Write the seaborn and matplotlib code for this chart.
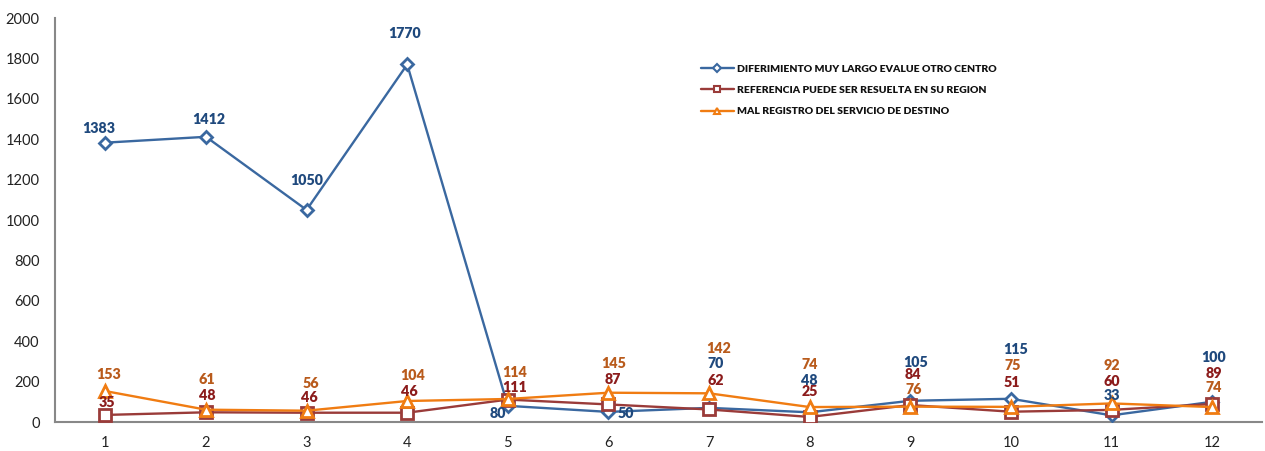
import matplotlib
matplotlib.use("Agg")
import matplotlib.pyplot as plt
import seaborn as sns
import pandas as pd
import numpy as np

months = list(range(1, 13))
series_names = [
    "DIFERIMIENTO MUY LARGO EVALUE OTRO CENTRO",
    "REFERENCIA PUEDE SER RESUELTA EN SU REGION",
    "MAL REGISTRO DEL SERVICIO DE DESTINO",
]
diferimiento = [1383, 1412, 1050, 1770, 80, 50, 70, 48, 105, 115, 33, 100]
referencia = [35, 48, 46, 46, 111, 87, 62, 25, 84, 51, 60, 89]
mal_registro = [153, 61, 56, 104, 114, 145, 142, 74, 76, 75, 92, 74]

line_colors = ["#3A68A0", "#9A3B39", "#F07C12"]
label_colors = ["#1F497D", "#8C1C1C", "#B95B1C"]
markers = ["D", "s", "^"]
msizes = [6, 8, 8]

# label offsets in pixels (dx, dy up)
offsets = [
    [(-7, 14), (3, 17), (0, 29), (-3, 31), (-10, -8), (17, -2), (7, 44), (0, 32), (5, 38), (5, 49), (0, 20), (1, 44)],
    [(2, 12), (1, 17), (3, 15), (2, 21), (7, 12), (4, 25), (7, 29), (0, 25), (3, 31), (1, 29), (0, 28), (2, 31)],
    [(3, 17), (1, 30), (4, 27), (5, 25), (7, 26), (5, 29), (10, 45), (0, 43), (3, 17), (2, 41), (0, 38), (2, 20)],
]

df = pd.DataFrame({
    "mes": months * 3,
    "valor": diferimiento + referencia + mal_registro,
    "serie": [series_names[0]] * 12 + [series_names[1]] * 12 + [series_names[2]] * 12,
})

sns.set_theme(style="white")
plt.rcParams["font.family"] = ["Lato", "DejaVu Sans"]

fig = plt.figure(figsize=(12.65, 4.51), dpi=100)
ax = fig.add_axes([0.0435, 0.0643, 0.9545, 0.8957])

all_vals = [diferimiento, referencia, mal_registro]
for i, name in enumerate(series_names):
    sub = df[df["serie"] == name]
    sns.lineplot(data=sub, x="mes", y="valor", ax=ax, color=line_colors[i],
                 linewidth=1.7, marker=markers[i], markersize=msizes[i],
                 markerfacecolor="white", markeredgecolor=line_colors[i],
                 markeredgewidth=2, label=name, zorder=3 + i)

for i, vals in enumerate(all_vals):
    for j, v in enumerate(vals):
        dx, dy = offsets[i][j]
        ax.annotate(str(v), (months[j], v), xytext=(dx, dy), textcoords="offset pixels",
                    ha="center", va="center", fontsize=10.3, fontweight="heavy",
                    color=label_colors[i], zorder=10)

ax.set_xlim(0.5, 12.5)
ax.set_ylim(0, 2000)
ax.set_yticks(np.arange(0, 2001, 200))
ax.set_xticks(months)
ax.set_xticks(np.arange(0.5, 12.6, 1), minor=True)
ax.tick_params(axis="x", which="major", length=0, pad=10, labelsize=10.5, colors="#222222")
ax.tick_params(axis="x", which="minor", length=5, width=1, color="#888888", direction="out")
ax.tick_params(axis="y", which="major", length=5, width=1, color="#888888", direction="out",
               labelsize=10.5, labelcolor="#222222", pad=6)
ax.set_xlabel("")
ax.set_ylabel("")
for s in ["top", "right"]:
    ax.spines[s].set_visible(False)
for s in ["left", "bottom"]:
    ax.spines[s].set_color("#888888")
    ax.spines[s].set_linewidth(1.5)

leg = ax.legend(loc="upper left", bbox_to_anchor=(0.527, 0.908), frameon=False,
                prop={"size": 7.5, "weight": "heavy"}, handlelength=3.2,
                labelspacing=1.15, handletextpad=0.3)
for t in leg.get_texts():
    t.set_color("#111111")
for h in leg.legend_handles:
    h.set_markersize(4.5)
    h.set_markeredgewidth(1.5)

fig.savefig("out.png", dpi=100)
